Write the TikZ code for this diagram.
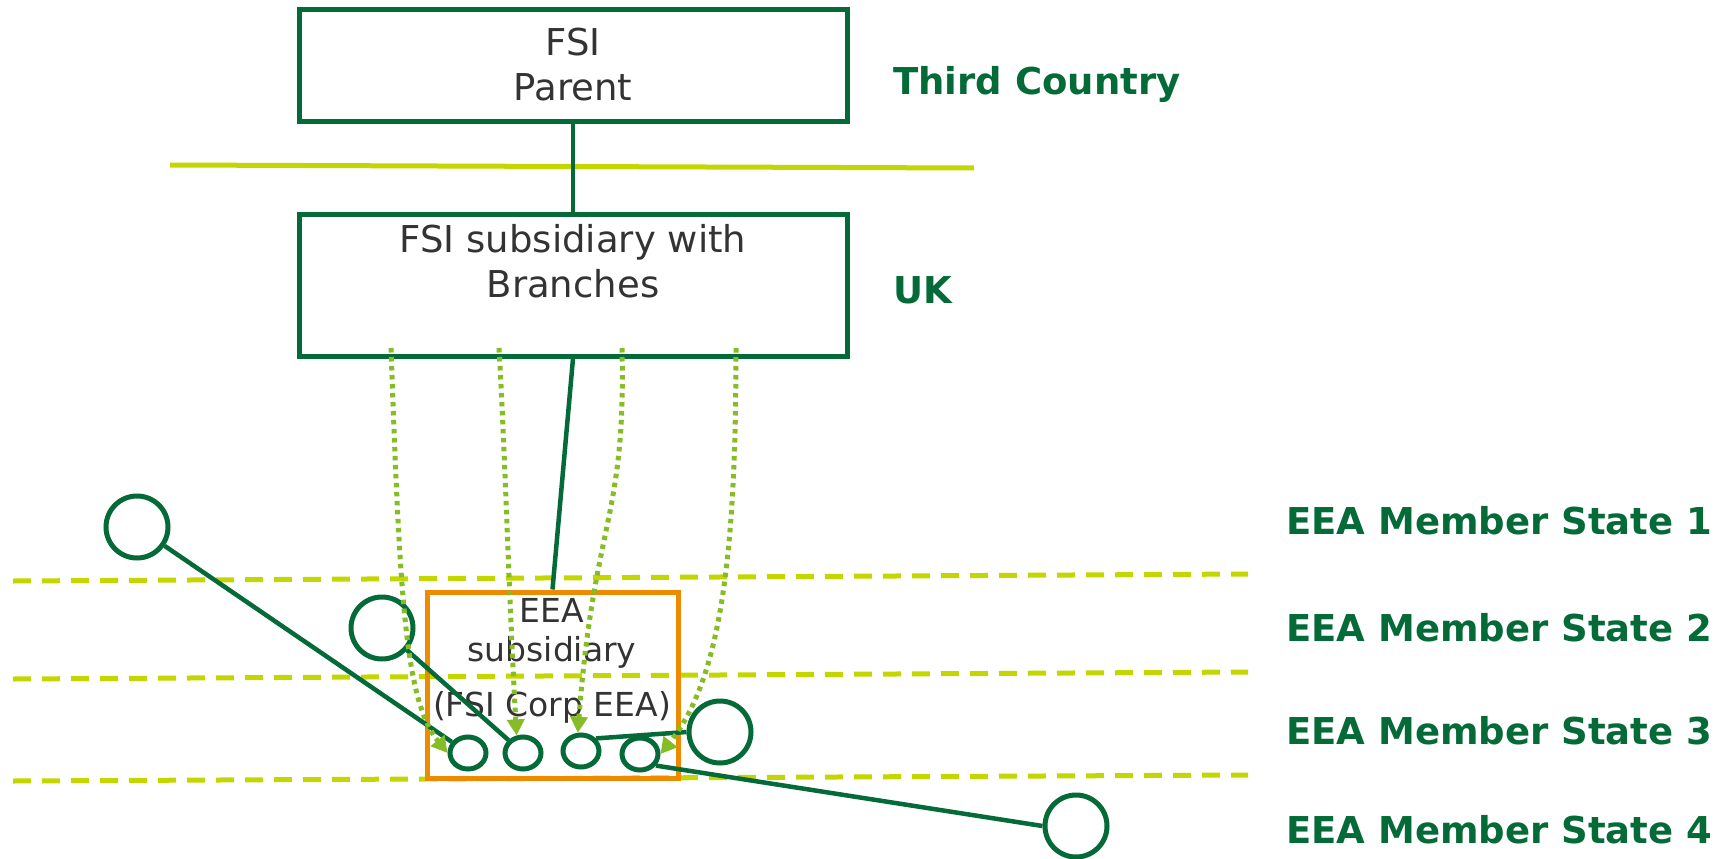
\documentclass[tikz,border=0pt]{standalone}
\usepackage{fontspec}
\setmainfont{DejaVu Sans}
\usetikzlibrary{arrows.meta}
\definecolor{dkgreen}{HTML}{046A38}
\definecolor{lime}{HTML}{C4D600}
\definecolor{ltgreen}{HTML}{86BC25}
\definecolor{orng}{HTML}{ED8B00}
\definecolor{txtgray}{HTML}{333333}
\tikzset{
  box/.style={draw=dkgreen, line width=5pt, minimum width=548pt, inner sep=0pt},
  boxtext/.style={text=txtgray, align=center, font=\fontsize{37}{45}\selectfont},
  region/.style={text=dkgreen, anchor=west, inner sep=0pt, font=\fontsize{37}{44}\selectfont\bfseries},
  bigc/.style={circle, draw=dkgreen, line width=5pt, minimum size=62pt, inner sep=0pt},
  smallc/.style={ellipse, draw=dkgreen, line width=5pt, minimum width=36pt, minimum height=32pt, inner sep=0pt},
  link/.style={draw=dkgreen, line width=4.5pt},
  border/.style={draw=lime, line width=5pt},
  borderdash/.style={draw=lime, line width=5pt, dash pattern=on 18pt off 11pt},
  branch/.style={draw=ltgreen, line width=5pt, dash pattern=on 4.5pt off 4.5pt, -{Triangle[length=16pt,width=17pt]}},
}
\usetikzlibrary{shapes.geometric}
\begin{document}
\begin{tikzpicture}[x=1pt,y=-1pt]
\useasboundingbox (0,0) rectangle (1724,859);
% borders
\draw[border] (170,165) coordinate (bl) -- (974,168) coordinate (br);
\draw[borderdash] (13,581) coordinate (d1l) -- (1248,574) coordinate (d1r);
\draw[borderdash] (13,679) coordinate (d2l) -- (1248,672) coordinate (d2r);
\draw[borderdash] (13,781) coordinate (d3l) -- (1248,775) coordinate (d3r);
% boxes
\node[box, minimum height=111pt] (parent) at (573,65.5) {};
\node[boxtext] (parenttxt) at (573,65) {FSI\\Parent};
\node[box, minimum height=142pt] (sub) at (573,285) {};
\node[boxtext] (subtxt) at (573,261) {FSI subsidiary with\\Branches};
\node[draw=orng, line width=5pt, minimum width=251pt, minimum height=186pt, inner sep=0pt] (eea) at (552.5,685) {};
\node[text=txtgray, align=center, font=\fontsize{33}{39}\selectfont] (eeatxt) at (552,661) {EEA\\subsidiary\\[16pt](FSI Corp EEA)};
% region labels
\node[region] (third) at (893,84) {Third Country};
\node[region] (uk) at (893,290) {UK};
\node[region] (m1) at (1286,521) {EEA Member State 1};
\node[region] (m2) at (1286,628) {EEA Member State 2};
\node[region] (m3) at (1286,731) {EEA Member State 3};
\node[region] (m4) at (1286,830) {EEA Member State 4};
% circles
\node[bigc] (b1) at (137,527) {};
\node[bigc] (b2) at (382,628) {};
\node[bigc] (b3) at (720,732) {};
\node[bigc] (b4) at (1076,826) {};
\node[smallc] (s1) at (468,753) {};
\node[smallc] (s2) at (523,753) {};
\node[smallc] (s3) at (581,751) {};
\node[smallc] (s4) at (640,754) {};
% ownership links
\draw[link] (parent.south) -- (sub.north);
\draw[link] (sub.south) -- (eea.north);
\draw[link] (b1) -- (s1);
\draw[link] (b2) -- (s2);
\draw[link] (s3.40) -- (b3.west);
\draw[link] (s4.-36) -- (b4.west);
% branch arrows
\coordinate (o1) at (391,348);
\coordinate (o2) at (499,348);
\coordinate (o3) at (622,348);
\coordinate (o4) at (736,348);
\draw[branch] (o1) .. controls (400,600) and (405,700) .. (s1.west);
\draw[branch] (o2) .. controls (505,450) and (509,600) .. (s2.110);
\draw[branch] (o3) .. controls (626,520) and (594,520) .. (s3.100);
\draw[branch] (o4) .. controls (736,560) and (720,680) .. (s4.east);
\end{tikzpicture}
\end{document}
